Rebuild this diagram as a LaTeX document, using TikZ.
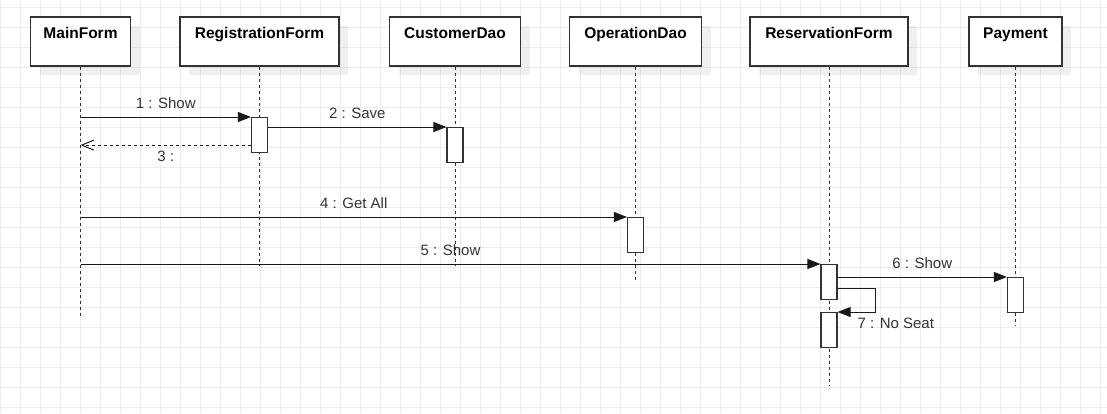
\documentclass[tikz,border=0pt]{standalone}
\usepackage{fontspec}
\setmainfont{Liberation Sans}
\usetikzlibrary{arrows.meta,shadows}

\begin{document}
\begin{tikzpicture}
    [x=1pt,y=-1pt,
    gridline/.style={draw=black!7,line width=1pt},
    object/.style={rectangle,draw=black!80,fill=white,line width=1.2pt,inner sep=0pt,
        text height=21pt,text depth=28pt,font=\fontsize{15.5}{18}\selectfont\bfseries,
        drop shadow={shadow xshift=9pt,shadow yshift=-9pt,fill=black,opacity=0.06}},
    activation/.style={rectangle,draw=black!80,fill=white,line width=1.1pt,
        minimum width=16pt,minimum height=35pt,inner sep=0pt,anchor=north},
    lifeline/.style={draw=black!80,line width=1pt,dash pattern=on 3pt off 3pt},
    msg/.style={draw=black!90,line width=1pt,-{Triangle[length=13pt,width=10pt]}},
    reply/.style={draw=black!90,line width=1pt,dash pattern=on 3pt off 3pt,
        -{Straight Barb[length=12pt,width=10pt]}},
    msglabel/.style={font=\fontsize{15}{18}\selectfont,text=black!80,inner sep=2.5pt}]

    \useasboundingbox (0,0) rectangle (1107,413);
    \foreach \gx in {0,20,...,1100} \draw[gridline] (\gx,0) -- (\gx,413);
    \foreach \gy in {7,27,...,407} \draw[gridline] (0,\gy) -- (1107,\gy);

    \node[object,minimum width=100pt] (main) at (80.5,41.5)  {MainForm};
    \node[object,minimum width=159pt] (reg)  at (259.5,41.5) {RegistrationForm};
    \node[object,minimum width=131pt] (cust) at (455,41.5)   {CustomerDao};
    \node[object,minimum width=132pt] (oper) at (635.5,41.5) {OperationDao};
    \node[object,minimum width=158pt] (res)  at (829,41.5)   {ReservationForm};
    \node[object,minimum width=93pt]  (pay)  at (1015.5,41.5) {Payment};

    \coordinate (mainend) at (80.5,316);
    \coordinate (regend)  at (259.5,265);
    \coordinate (custend) at (455,265);
    \coordinate (operend) at (635.5,280);
    \coordinate (resend)  at (829,385);
    \coordinate (payend)  at (1015.5,326);
    \draw[lifeline] (main) -- (mainend);
    \draw[lifeline] (reg) -- (regend);
    \draw[lifeline] (cust) -- (custend);
    \draw[lifeline] (oper) -- (operend);
    \draw[lifeline] (res) -- (resend);
    \draw[lifeline] (pay) -- (payend);

    \node[activation] (actR)  at (259.5,117) {};
    \node[activation] (actC)  at (455,127)   {};
    \node[activation] (actO)  at (635.5,217) {};
    \node[activation] (actS1) at (829,264)   {};
    \node[activation] (actS2) at (829,312)   {};
    \node[activation] (actP)  at (1015.5,277) {};

    \draw[msg] (main |- actR.north) -- node[msglabel,above=5pt] {1 : Show} (actR.north west);
    \draw[msg] (actR.east |- actC.north) -- node[msglabel,above=5pt] {2 : Save} (actC.north west);
    \coordinate (ret) at ([yshift=8pt]actR.south west);
    \draw[reply] (ret) -- node[msglabel,below=3pt] {3 :} (main |- ret);
    \draw[msg] (main |- actO.north) -- node[msglabel,above=5pt] {4 : Get All} (actO.north west);
    \draw[msg] (main |- actS1.north) -- node[msglabel,above=5pt] {5 : Show} (actS1.north west);
    \draw[msg] (actS1.east |- actP.north) -- node[msglabel,above=5pt] {6 : Show} (actP.north west);
    \draw[msg] ([yshift=12pt]actS1.south east) -- ++(38,0) |- (actS2.north east)
          node[msglabel,anchor=north west,xshift=17pt,yshift=-3pt] {7 : No Seat};
\end{tikzpicture}
\end{document}
